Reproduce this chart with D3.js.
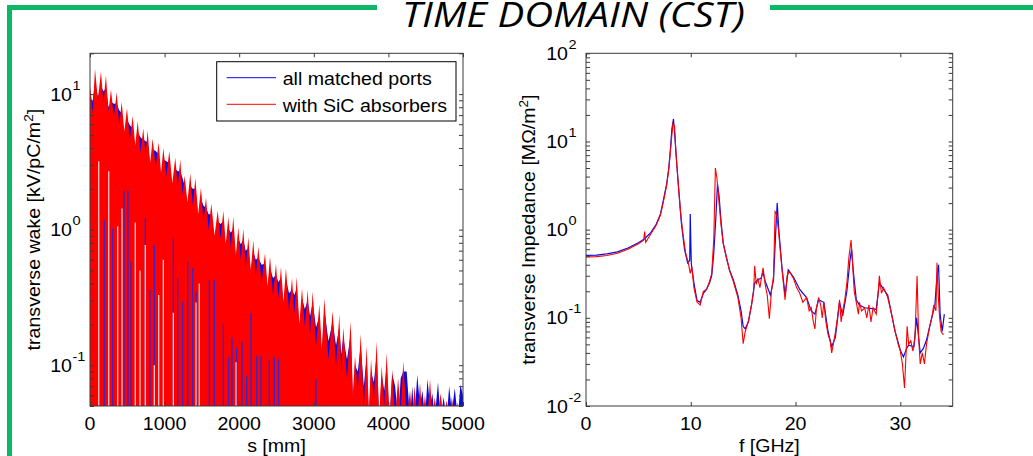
<!DOCTYPE html>
<html><head><meta charset="utf-8">
<script src="https://cdn.jsdelivr.net/npm/d3@7"></script>
<style>
html,body{margin:0;padding:0;background:#fff;}
svg{display:block;}
text{font-family:"Liberation Sans", Arial, sans-serif; fill:#000;}
</style></head><body>
<svg id="fig" width="1033" height="456"></svg>
<script>
// ---------- data: transverse wake (s in mm, |W| in kV/pC/m^2) ----------
// spike tops and the troughs between them
const wakeBlue = [
 [0,9.0],[5,9.5],[36,8.8],[67,12.5],[105,9.5],[147,11.5],[180,10.5],[214,11.0],[248,8.0],[281,8.8],
 [320,8.5],[358,8.5],[392,7.6],[425,7.2],[460,5.0],[496,6.5],[534,5.9],[572,5.6],[606,4.0],[640,5.2],
 [677,4.8],[714,4.6],[744,4.5],[773,4.4],[806,3.0],[840,3.9],[880,3.8],[921,3.6],[952,2.5],[983,3.3],
 [1023,3.2],[1063,3.1],[1103,2.1],[1143,2.8],[1176,2.7],[1210,2.7],[1240,2.4],[1269,2.1],[1306,1.5],[1344,2.1],
 [1378,2.0],[1412,2.0],[1450,1.25],[1488,1.7],[1521,1.5],[1555,1.45],[1590,1.3],[1626,1.3],[1669,0.88],[1712,1.15],
 [1750,1.1],[1787,1.15],[1820,0.75],[1854,1.02],[1888,0.95],[1921,1.02],[1955,0.62],[1988,0.86],[2021,0.78],[2055,0.84],
 [2088,0.7],[2122,0.73],[2155,0.48],[2189,0.69],[2222,0.6],[2256,0.62],[2300,0.55],[2346,0.56],[2380,0.37],[2413,0.52],
 [2453,0.44],[2493,0.46],[2526,0.41],[2560,0.44],[2593,0.28],[2627,0.43],[2668,0.34],[2708,0.36],[2740,0.33],[2771,0.37],
 [2806,0.19],[2842,0.31],[2880,0.26],[2918,0.3],[2950,0.23],[2985,0.29],[3030,0.19],[3074,0.23],[3108,0.12],[3141,0.26],
 [3197,0.15],[3253,0.21],[3298,0.14],[3342,0.19],[3368,0.12],[3395,0.16],[3445,0.11],[3495,0.17],[3524,0.055],[3552,0.1],
 [3590,0.09],[3629,0.14],[3670,0.07],[3709,0.115],[3738,0.04],[3767,0.09],[3805,0.075],[3843,0.12],[3876,0.04],[3910,0.085],
 [3944,0.065],[3977,0.1],[4015,0.04],[4052,0.086],[4090,0.07],[4130,0.04],[4165,0.08],[4200,0.09],[4245,0.09],[4290,0.04],
 [4320,0.07],[4350,0.04],[4387,0.085],[4424,0.05],[4457,0.065],[4490,0.04],[4524,0.079],[4558,0.05],[4590,0.062],[4620,0.04],
 [4665,0.075],[4700,0.04],[4740,0.058],[4780,0.04],[4815,0.07],[4850,0.045],[4890,0.068],[4930,0.04],[4965,0.072],[5000,0.06]
];
const wakeRed = [
 [0,9.5],[5,11.5],[36,7.2],[67,15.4],[105,9.0],[147,14.7],[180,8.6],[214,13.7],[248,7.4],[281,10.8],
 [320,6.8],[358,10.3],[392,5.9],[425,8.8],[460,5.3],[496,7.9],[534,4.6],[572,6.9],[606,4.2],[640,6.3],
 [677,3.7],[714,5.6],[744,3.6],[773,5.4],[806,3.1],[840,4.7],[880,2.9],[921,4.4],[952,2.6],[983,4.0],
 [1023,2.5],[1063,3.8],[1103,2.2],[1143,3.4],[1176,2.1],[1210,3.3],[1240,1.8],[1269,2.5],[1306,1.6],[1344,2.6],
 [1378,1.5],[1412,2.4],[1450,1.3],[1488,2.05],[1521,1.15],[1555,1.73],[1590,1.0],[1626,1.56],[1669,0.9],[1712,1.38],
 [1750,0.86],[1787,1.38],[1820,0.78],[1854,1.24],[1888,0.74],[1921,1.24],[1955,0.64],[1988,1.04],[2021,0.6],[2055,1.02],
 [2088,0.53],[2122,0.88],[2155,0.5],[2189,0.835],[2222,0.45],[2256,0.75],[2300,0.41],[2346,0.67],[2380,0.38],[2413,0.63],
 [2453,0.33],[2493,0.56],[2526,0.31],[2560,0.53],[2593,0.29],[2627,0.52],[2668,0.25],[2708,0.44],[2740,0.24],[2771,0.45],
 [2806,0.2],[2842,0.37],[2880,0.19],[2918,0.36],[2950,0.17],[2985,0.35],[3030,0.14],[3074,0.28],[3108,0.13],[3141,0.31],
 [3197,0.11],[3253,0.25],[3298,0.1],[3342,0.236],[3368,0.09],[3395,0.19],[3445,0.08],[3495,0.21],[3524,0.06],[3552,0.117],
 [3590,0.065],[3629,0.17],[3670,0.05],[3709,0.139],[3738,0.045],[3767,0.11],[3805,0.055],[3843,0.15],[3876,0.04],[3910,0.099],
 [3944,0.05],[3977,0.124],[4015,0.04],[4052,0.093],[4090,0.04],[4130,0.08],[4165,0.045],[4200,0.107],[4245,0.04],[4290,0.065],
 [4320,0.04],[4350,0.07],[4387,0.04],[4424,0.074],[4457,0.04],[4490,0.06],[4524,0.04],[4558,0.079],[4590,0.04],[4620,0.058],
 [4660,0.04],[4700,0.062],[4740,0.04],[4780,0.055],[4815,0.04],[4850,0.058],[4890,0.04],[4930,0.053],[4965,0.04],[5000,0.04]
];
// zero crossings of the SiC wake: [s, level the dip starts from]
const dipsRedOnly = [
 [192,1.17],[304,1.02],[456,1.94],[509,1.94],[550,0.58],[741,1.23],[804,0.36],[862,0.77],[1117,0.86],[1176,0.44],
 [1243,0.295],[1310,0.58],[1377,0.52],[1421,0.35],[1599,0.426],[1666,0.426],[1787,0.2],[1859,0.115],[1903,0.16],[1966,0.135],
 [2038,0.15],[2101,0.083],[2158,0.243],[2235,0.117],[2292,0.117],[2403,0.11],[2471,0.115],[2529,0.11],[3029,0.079]
];
// zero crossings common to both wakes
const dipsBoth = [
 [117,3.2],[251,2.7],[371,1.06],[429,1.43],[607,1.13],[670,0.5],[741,0.77],[862,0.1],[921,0.33],[983,0.6],
 [1117,0.244],[1421,0.29],[1465,0.4],[1957,0.105]
];

// ---------- data: transverse impedance (f in GHz, |Z| in MOhm/m^2) ----------
const impBlue = [
 [0,0.51],[1,0.515],[2,0.53],[3,0.56],[4,0.62],[5,0.71],[5.6,0.79],[6.2,0.93],[6.7,1.15],[7.1,1.5],
 [7.4,2.2],[7.7,3.3],[7.9,5.0],[8.05,8.0],[8.2,14.0],[8.35,18.0],[8.5,10.5],[8.7,4.8],[8.9,2.4],[9.1,1.2],
 [9.4,0.6],[9.7,0.42],[9.9,0.45],[9.95,1.5],[10.05,0.41],[10.3,0.25],[10.6,0.157],[10.9,0.15],[11.2,0.19],[11.5,0.21],
 [11.8,0.25],[12.0,0.3],[12.2,0.55],[12.4,1.4],[12.55,3.3],[12.7,2.4],[12.9,1.2],[13.1,0.7],[13.4,0.48],[13.7,0.35],
 [14.06,0.27],[14.5,0.18],[14.8,0.12],[15.0,0.08],[15.2,0.075],[15.5,0.09],[15.8,0.14],[16.1,0.25],[16.4,0.27],[16.7,0.28],
 [16.9,0.33],[17.1,0.26],[17.4,0.21],[17.6,0.18],[17.9,0.27],[18.1,0.9],[18.25,2.0],[18.4,1.0],[18.7,0.38],[19.0,0.18],
 [19.3,0.35],[19.8,0.29],[20.4,0.21],[21.05,0.17],[21.5,0.12],[21.85,0.11],[22.2,0.16],[22.7,0.15],[23.1,0.07],[23.45,0.047],
 [23.8,0.06],[24.2,0.15],[24.5,0.105],[24.9,0.2],[25.2,0.45],[25.35,0.6],[25.5,0.35],[25.8,0.16],[26.1,0.14],[26.6,0.13],
 [27.3,0.127],[27.7,0.125],[28.0,0.25],[28.3,0.22],[28.8,0.18],[29.5,0.07],[30.0,0.043],[30.3,0.036],[30.6,0.045],[30.8,0.049],
 [31.3,0.047],[31.55,0.1],[31.9,0.04],[32.2,0.045],[32.5,0.056],[33.0,0.1],[33.3,0.14],[33.5,0.3],[33.65,0.4],[33.8,0.11],
 [34.0,0.07],[34.2,0.11]
];
const impRed = [
 [0,0.49],[1,0.495],[2,0.51],[3,0.54],[4,0.6],[5,0.69],[5.5,0.76],[5.6,0.95],[5.7,0.72],[6.2,0.9],
 [6.7,1.12],[7.1,1.45],[7.4,2.1],[7.7,3.2],[7.9,4.8],[8.05,7.5],[8.2,12.0],[8.3,16.0],[8.45,15.0],[8.6,7.0],
 [8.8,3.4],[9.0,1.7],[9.2,1.0],[9.5,0.55],[9.8,0.4],[9.95,0.32],[10.1,0.38],[10.3,0.22],[10.6,0.15],[10.9,0.14],
 [11.2,0.2],[11.5,0.21],[11.8,0.26],[12.0,0.32],[12.2,0.8],[12.35,5.0],[12.5,3.8],[12.7,2.0],[12.9,1.1],[13.1,0.7],
 [13.4,0.49],[13.7,0.34],[14.06,0.26],[14.5,0.17],[14.8,0.1],[15.0,0.051],[15.2,0.07],[15.5,0.092],[15.8,0.14],[16.0,0.2],
 [16.1,0.39],[16.25,0.24],[16.4,0.28],[16.6,0.22],[16.9,0.37],[17.1,0.24],[17.3,0.18],[17.5,0.098],[17.7,0.2],[17.9,0.3],
 [18.05,1.6],[18.2,1.5],[18.4,0.9],[18.7,0.36],[19.0,0.16],[19.2,0.3],[19.4,0.34],[19.8,0.28],[20.1,0.22],[20.4,0.19],
 [20.7,0.15],[21.05,0.17],[21.3,0.12],[21.5,0.13],[21.7,0.09],[21.85,0.075],[22.0,0.13],[22.2,0.17],[22.4,0.14],[22.55,0.1],
 [22.7,0.15],[22.9,0.09],[23.1,0.065],[23.3,0.055],[23.45,0.04],[23.6,0.05],[23.8,0.068],[24.0,0.1],[24.2,0.16],[24.35,0.09],
 [24.5,0.12],[24.7,0.16],[24.9,0.25],[25.1,0.5],[25.3,0.76],[25.45,0.4],[25.6,0.2],[25.8,0.15],[26.0,0.11],[26.1,0.15],
 [26.3,0.12],[26.6,0.13],[26.8,0.1],[27.0,0.14],[27.2,0.09],[27.4,0.13],[27.7,0.11],[27.9,0.2],[28.0,0.3],[28.2,0.19],
 [28.4,0.22],[28.8,0.17],[29.1,0.12],[29.5,0.07],[29.8,0.05],[30.0,0.042],[30.2,0.03],[30.4,0.016],[30.55,0.04],[30.65,0.08],
 [30.8,0.05],[31.0,0.055],[31.2,0.042],[31.4,0.06],[31.6,0.3],[31.75,0.06],[31.9,0.03],[32.1,0.04],[32.3,0.03],[32.5,0.05],
 [32.8,0.08],[33.0,0.1],[33.2,0.14],[33.4,0.12],[33.5,0.42],[33.6,0.2],[33.75,0.1],[33.9,0.07],[34.05,0.065],[34.15,0.065]
];

// ---------- axis ticks and labels ----------
const wakeXTicks = [0, 1000, 2000, 3000, 4000, 5000];
const wakeYDecades = [0.1, 1, 10];
const wakeYDomain = [0.05, 20];
const impXTicks = [0, 10, 20, 30];
const impYDecades = [0.01, 0.1, 1, 10, 100];
const impYDomain = [0.01, 100];
const legendLabels = ["all matched ports", "with SiC absorbers"];
const seriesColors = {blue: "#0a0ae6", red: "#ff0000"};
const titleText = "TIME DOMAIN (CST)";

const svg = d3.select("#fig");
const green = "#0cb865";
const FS = 17.5;   // label font size
const SX = 1.12;   // horizontal stretch of the label face

// framing banner
svg.append("rect").attr("x", 7).attr("y", 5).attr("width", 5).attr("height", 456).attr("fill", green);
svg.append("rect").attr("x", 7).attr("y", 5).attr("width", 370).attr("height", 5).attr("fill", green);
svg.append("rect").attr("x", 770).attr("y", 5).attr("width", 263).attr("height", 5).attr("fill", green);
svg.append("text").attr("x", 402).attr("y", 27)
  .attr("textLength", 343).attr("lengthAdjust", "spacingAndGlyphs")
  .style("font-family", "'Open Sans', sans-serif").style("font-style", "italic")
  .style("font-size", "35px").text(titleText);

// stretched text placed at (x, y); extra transform (e.g. rotation) applied before the stretch
function label(g, x, y, str, anchor, size, extra) {
  return g.append("text")
    .attr("transform", `translate(${x},${y}) ${extra || ""} scale(${SX},1)`)
    .attr("text-anchor", anchor || "start")
    .style("font-size", (size || FS) + "px")
    .text(str);
}

function decadeExp(v) { return Math.round(Math.log10(v)); }

function drawAxes(g, x, y, xTicks, yDecades, box) {
  const [x0, x1, y0, y1] = box;
  const minor = y.ticks();
  const ax = (axis, tr) => g.append("g").attr("transform", tr).call(axis)
    .call(s => { s.select(".domain").remove(); s.selectAll("line").attr("stroke", "#3a3a3a"); s.selectAll("text").remove(); });
  ax(d3.axisBottom(x).tickValues(xTicks).tickSize(-4), `translate(0,${y1})`);
  ax(d3.axisTop(x).tickValues(xTicks).tickSize(-4), `translate(0,${y0})`);
  ax(d3.axisLeft(y).tickValues(minor).tickSize(-4), `translate(${x0},0)`);
  ax(d3.axisRight(y).tickValues(minor).tickSize(-4), `translate(${x1},0)`);
  g.append("rect").attr("x", x0).attr("y", y0).attr("width", x1 - x0).attr("height", y1 - y0)
    .attr("fill", "none").attr("stroke", "#3a3a3a").attr("stroke-width", 1);
  xTicks.forEach(v => label(g, x(v), 429.5, String(v), "middle"));
  yDecades.forEach(v => {
    const ty = y(v);
    label(g, x0 - 18, ty + 6.5, "10", "end");
    label(g, x0 - 17.5, ty - 4.5, String(decadeExp(v)), "start", 13);
  });
}

// ================= left: transverse wake =================
const boxL = [90, 463, 53.3, 406];
const xL = d3.scaleLinear().domain([0, 5000]).range([boxL[0], boxL[1]]);
const yL = d3.scaleLog().domain(wakeYDomain).range([boxL[3], boxL[2]]);
const gL = svg.append("g");
svg.append("clipPath").attr("id", "clipL").append("rect")
  .attr("x", boxL[0]).attr("y", boxL[2]).attr("width", boxL[1] - boxL[0]).attr("height", boxL[3] - boxL[2]);
const plotL = gL.append("g").attr("clip-path", "url(#clipL)");
const areaL = d3.area().x(d => xL(d[0])).y0(boxL[3] + 2).y1(d => yL(d[1]));
plotL.append("path").datum(wakeBlue).attr("d", areaL).attr("fill", seriesColors.blue);
plotL.append("path").datum(wakeRed).attr("d", areaL).attr("fill", seriesColors.red);
plotL.selectAll(".dipR").data(dipsRedOnly).join("line")
  .attr("x1", d => xL(d[0])).attr("x2", d => xL(d[0]))
  .attr("y1", boxL[3] + 2).attr("y2", d => yL(d[1]))
  .attr("stroke", "#4422bb").attr("stroke-width", 1.4);
plotL.selectAll(".dipB").data(dipsBoth).join("line")
  .attr("x1", d => xL(d[0])).attr("x2", d => xL(d[0]))
  .attr("y1", boxL[3] + 2).attr("y2", d => yL(d[1]))
  .attr("stroke", "#f5caca").attr("stroke-width", 1.3);
drawAxes(gL, xL, yL, wakeXTicks, wakeYDecades, boxL);

// axis titles
label(gL, (boxL[0] + boxL[1]) / 2, 452, "s [mm]", "middle");
const yTitleL = label(gL, 39.5, (boxL[2] + boxL[3]) / 2, "", "middle", FS, "rotate(-90)");
yTitleL.append("tspan").text("transverse wake [kV/pC/m");
yTitleL.append("tspan").attr("dy", -7).style("font-size", "12px").text("2");
yTitleL.append("tspan").attr("dy", 7).text("]");

// legend
const lg = gL.append("g");
lg.append("rect").attr("x", 216.7).attr("y", 61.7).attr("width", 239.3).attr("height", 59.3)
  .attr("fill", "#fff").attr("stroke", "#000").attr("stroke-width", 1);
[[seriesColors.blue, 77.7, 85, legendLabels[0]], [seriesColors.red, 104.3, 111.7, legendLabels[1]]].forEach(([c, ly, ty, t]) => {
  lg.append("line").attr("x1", 226.7).attr("x2", 276).attr("y1", ly).attr("y2", ly).attr("stroke", c).attr("stroke-width", 1);
  label(lg, 282.7, ty, t, "start");
});

// ================= right: transverse impedance =================
const boxR = [586, 952.7, 53.3, 406];
const xR = d3.scaleLinear().domain([0, 35]).range([boxR[0], boxR[1]]);
const yR = d3.scaleLog().domain(impYDomain).range([boxR[3], boxR[2]]);
const gR = svg.append("g");
svg.append("clipPath").attr("id", "clipR").append("rect")
  .attr("x", boxR[0]).attr("y", boxR[2]).attr("width", boxR[1] - boxR[0]).attr("height", boxR[3] - boxR[2]);
const plotR = gR.append("g").attr("clip-path", "url(#clipR)");
const lineR = d3.line().x(d => xR(d[0])).y(d => yR(d[1]));
plotR.append("path").datum(impBlue).attr("d", lineR).attr("fill", "none")
  .attr("stroke", seriesColors.blue).attr("stroke-width", 1.2);
plotR.append("path").datum(impRed).attr("d", lineR).attr("fill", "none")
  .attr("stroke", seriesColors.red).attr("stroke-width", 1.1);
drawAxes(gR, xR, yR, impXTicks, impYDecades, boxR);

label(gR, (boxR[0] + boxR[1]) / 2, 452, "f [GHz]", "middle");
const yTitleR = label(gR, 535, (boxR[2] + boxR[3]) / 2, "", "middle", FS, "rotate(-90)");
yTitleR.append("tspan").text("transverse Impedance [MΩ/m");
yTitleR.append("tspan").attr("dy", -7).style("font-size", "12px").text("2");
yTitleR.append("tspan").attr("dy", 7).text("]");
</script></body></html>
